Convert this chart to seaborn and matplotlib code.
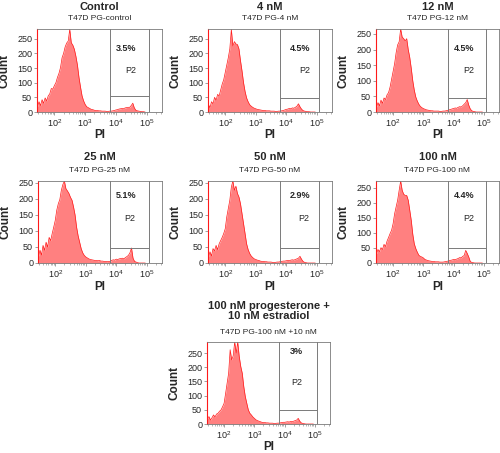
import numpy as np
import seaborn as sns
import matplotlib.pyplot as plt
from matplotlib.ticker import LogLocator, NullFormatter

# panel texts
titles = ["Control", "4 nM", "12 nM", "25 nM", "50 nM", "100 nM",
          "100 nM progesterone +\n10 nM estradiol"]
samples = ["T47D PG-control", "T47D PG-4 nM", "T47D PG-12 nM", "T47D PG-25 nM",
           "T47D PG-50 nM", "T47D PG-100 nM", "T47D PG-100 nM +10 nM"]
p2_pct = ["3.5%", "4.5%", "4.5%", "5.1%", "2.9%", "4.4%", "3%"]

# PI channel (log10), one count per channel
log_pi = np.round(np.arange(1.45, 4.951, 0.05), 2)

counts_control = [18, 35, 22, 42, 30, 48, 38, 55, 62, 80,
                  78, 90, 100, 118, 132, 152, 185, 200, 222, 235,
                  242, 282, 236, 228, 214, 190, 160, 118, 85, 55,
                  38, 26, 18, 15, 12, 9, 8, 6, 5, 5,
                  4, 4, 3, 3, 3, 2, 2, 3, 3, 4,
                  5, 7, 8, 10, 11, 12, 11, 14, 15, 16,
                  16, 22, 30, 14, 6, 4, 3, 2, 1, 1, 0]
counts_4nm = [25, 15, 35, 28, 50, 40, 60, 55, 75, 95,
              110, 135, 160, 185, 215, 282, 225, 240, 232, 230,
              215, 175, 140, 100, 70, 48, 35, 25, 20, 16,
              13, 11, 9, 8, 7, 6, 5, 5, 4, 4,
              4, 3, 3, 3, 2, 2, 3, 3, 4, 5,
              7, 9, 10, 12, 11, 14, 13, 16, 20, 28,
              18, 10, 5, 3, 2, 1, 1, 0, 0, 0, 0]
counts_12nm = [15, 30, 20, 38, 28, 45, 40, 55, 62, 80,
               105, 130, 155, 190, 215, 225, 266, 240, 235, 228,
               235, 200, 175, 140, 100, 70, 48, 35, 25, 18,
               14, 11, 9, 7, 6, 5, 4, 4, 3, 3,
               3, 3, 2, 2, 3, 3, 4, 5, 7, 8,
               10, 11, 13, 12, 15, 17, 16, 20, 25, 30,
               40, 22, 10, 4, 2, 1, 0, 0, 0, 0, 0]
counts_25nm = [20, 40, 25, 55, 40, 65, 50, 80, 70, 92,
               112, 133, 165, 185, 198, 227, 245, 256, 232, 225,
               217, 205, 196, 175, 150, 112, 85, 65, 45, 32,
               24, 19, 16, 13, 11, 10, 9, 8, 8, 7,
               8, 6, 6, 5, 5, 4, 5, 5, 8, 10,
               9, 12, 11, 13, 14, 15, 13, 17, 20, 24,
               32, 47, 15, 5, 3, 1, 0, 0, 0, 0, 0]
counts_50nm = [19, 35, 22, 45, 38, 55, 42, 60, 70, 80,
               92, 107, 144, 170, 196, 237, 256, 227, 240, 217,
               206, 185, 154, 123, 92, 60, 42, 30, 22, 17,
               13, 11, 9, 8, 6, 5, 5, 4, 4, 3,
               3, 3, 2, 2, 2, 3, 3, 4, 5, 6,
               6, 7, 8, 7, 9, 10, 9, 11, 13, 15,
               21, 12, 5, 2, 1, 0, 0, 0, 0, 0, 0]
counts_100nm = [31, 45, 38, 51, 45, 62, 55, 73, 85, 98,
                109, 131, 164, 187, 209, 242, 273, 242, 229, 225,
                225, 209, 176, 142, 96, 64, 48, 36, 26, 22,
                20, 17, 12, 10, 8, 7, 6, 5, 5, 4,
                4, 4, 3, 3, 3, 4, 5, 6, 8, 9,
                10, 12, 11, 13, 15, 18, 17, 22, 25, 42,
                32, 20, 5, 2, 1, 0, 0, 0, 0, 0, 0]
counts_combo = [20, 26, 14, 22, 32, 25, 35, 38, 45, 50,
                61, 73, 108, 144, 179, 262, 226, 240, 289, 250,
                289, 238, 203, 179, 132, 97, 73, 50, 38, 32,
                25, 20, 15, 12, 10, 8, 6, 5, 5, 4,
                4, 3, 3, 3, 2, 2, 3, 3, 4, 5,
                6, 6, 7, 8, 7, 9, 8, 10, 12, 14,
                20, 10, 4, 2, 1, 0, 0, 0, 0, 0, 0]
all_counts = [counts_control, counts_4nm, counts_12nm, counts_25nm,
              counts_50nm, counts_100nm, counts_combo]

# gate P2 and axis tops
y_top = [283, 283, 266, 256, 256, 273, 289]
gate_lo, gate_hi = 6.4e3, 1.2e5
gate_cut = [55, 49, 46, 47, 47, 51, 50]
pct_x = [4.34, 4.45, 4.35, 4.32, 4.45, 4.35, 4.39]
p2_x = [4.47, 4.6, 4.49, 4.45, 4.59, 4.49, 4.39]
pct_y = [0.76, 0.76, 0.76, 0.825, 0.825, 0.825, 0.886]
p2_y = [0.50, 0.50, 0.50, 0.54, 0.54, 0.54, 0.506]

# axes boxes in pixels: left, top, right, bottom
boxes = [(37, 29, 162, 112), (208, 29, 332, 112), (376, 29, 499, 112),
         (38, 181, 162, 263), (208, 181, 332, 263), (376, 181, 499, 263),
         (207, 342, 330, 424)]
title_y = [7, 7, 7, 157.5, 157.5, 157.5, 311]
sub_y = [19, 19, 19, 171, 171, 171, 332]

sns.set_theme(style="ticks")
plt.rcParams['font.family'] = ['Liberation Sans', 'DejaVu Sans']
plt.rcParams['mathtext.fontset'] = 'custom'
plt.rcParams['mathtext.rm'] = 'Liberation Sans'

W, H = 500, 453
fig = plt.figure(figsize=(W / 100, H / 100), dpi=100)
grey = '#7a7a7a'
fill_c = '#ff8080'
edge_c = '#ff1a1a'

for i, (l, t, r, b) in enumerate(boxes):
    ax = fig.add_axes([l / W, 1 - b / H, (r - l) / W, (b - t) / H])
    ax.set_xscale('log')
    x = 10 ** log_pi
    y = np.array(all_counts[i])
    ax.fill_between(x, y, 0, color=fill_c, lw=0)
    sns.lineplot(x=x, y=y, ax=ax, color=edge_c, lw=0.5)

    ax.set_xlim(10 ** 1.435, 10 ** 5.5)
    ax.set_ylim(0, y_top[i])
    ax.set_yticks([0, 50, 100, 150, 200, 250])
    ax.set_xticks([1e2, 1e3, 1e4, 1e5])
    ax.xaxis.set_minor_locator(LogLocator(base=10, subs=np.arange(2, 10)))
    ax.xaxis.set_minor_formatter(NullFormatter())
    ax.tick_params(axis='both', which='major', length=2, width=0.5, color=grey,
                   labelsize=6.5, pad=1.5, direction='out')
    ax.tick_params(axis='x', which='minor', length=1.3, width=0.4, color=grey)
    ax.set_xlabel('')
    ax.set_ylabel('')
    for side in ['top', 'right', 'bottom']:
        ax.spines[side].set_color(grey)
        ax.spines[side].set_linewidth(0.6)
    ax.spines['left'].set_color(edge_c)
    ax.spines['left'].set_linewidth(0.8)

    # gate P2
    ax.axvline(gate_lo, color=grey, lw=0.7)
    ax.axvline(gate_hi, color=grey, lw=0.7)
    ax.hlines(gate_cut[i], gate_lo, gate_hi, color=grey, lw=0.7)
    tr = ax.get_xaxis_transform()
    ax.text(10 ** pct_x[i], pct_y[i], p2_pct[i], transform=tr, ha='center',
            va='center', fontsize=6.5, fontweight='bold')
    ax.text(10 ** p2_x[i], p2_y[i], "P2", transform=tr, ha='center',
            va='center', fontsize=6.5)

    cx = (l + r) / 2 / W
    fig.text(cx, 1 - title_y[i] / H, titles[i], ha='center', va='center',
             fontsize=8, fontweight='bold', linespacing=1.1)
    fig.text(cx, 1 - sub_y[i] / H, samples[i], ha='center', va='center',
             fontsize=6)
    fig.text(cx, 1 - (b + 23.5) / H, "PI", ha='center', va='center',
             fontsize=8.5, fontweight='bold')
    fig.text((l - 32.5) / W, 1 - (t + b) / 2 / H, "Count", ha='center',
             va='center', rotation=90, fontsize=8.5, fontweight='bold')

fig.savefig("out.png", dpi=100)
